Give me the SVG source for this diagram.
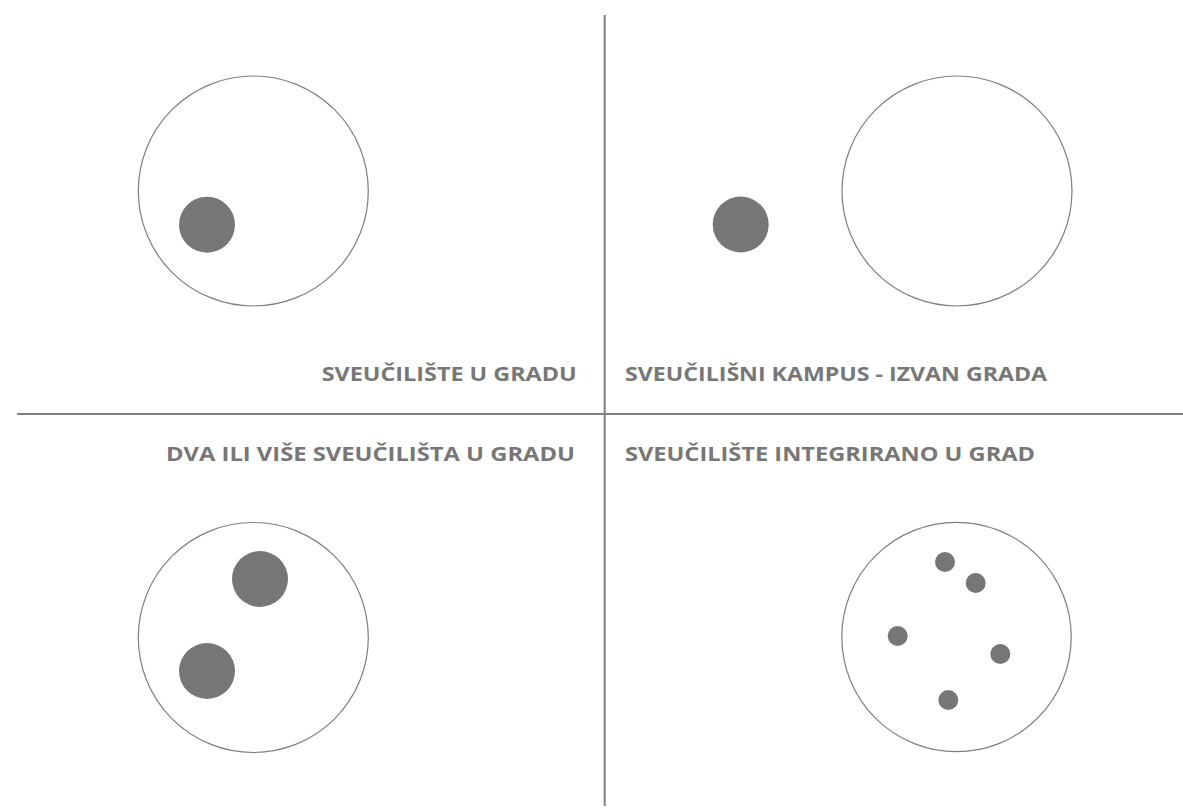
<svg xmlns="http://www.w3.org/2000/svg" width="1183" height="809" viewBox="0 0 1183 809">
<style>
.city{fill:#ffffff;stroke:#7f7f7f;stroke-width:1.2}
.uni{fill:#767676}
.lbl{font-family:"Open Sans","DejaVu Sans","Liberation Sans",sans-serif;font-weight:bold;font-size:18.7px;fill:#777777}
.axis{stroke:#7f7f7f;stroke-width:2}
</style>
<rect width="1183" height="809" fill="#ffffff"/>
<g id="axes">
<line class="axis" x1="604.7" y1="15" x2="604.7" y2="806"/>
<line class="axis" x1="17" y1="414" x2="1183" y2="414"/>
</g>
<g id="q1">
<circle class="city" cx="253.3" cy="191" r="115"/>
<circle class="uni" cx="207" cy="224.7" r="28"/>
<text class="lbl" x="576.7" y="381" text-anchor="end" textLength="255" lengthAdjust="spacingAndGlyphs">SVEUČILIŠTE U GRADU</text>
</g>
<g id="q2">
<circle class="city" cx="957" cy="191" r="115"/>
<circle class="uni" cx="740.7" cy="224.5" r="28"/>
<text class="lbl" x="625" y="381" textLength="422" lengthAdjust="spacingAndGlyphs">SVEUČILIŠNI KAMPUS - IZVAN GRADA</text>
</g>
<g id="q3">
<circle class="city" cx="253.3" cy="637.5" r="115"/>
<circle class="uni" cx="260" cy="579" r="28"/>
<circle class="uni" cx="207" cy="671" r="28"/>
<text class="lbl" x="575" y="461" text-anchor="end" textLength="409" lengthAdjust="spacingAndGlyphs">DVA ILI VIŠE SVEUČILIŠTA U GRADU</text>
</g>
<g id="q4">
<circle class="city" cx="956.5" cy="637" r="114.7"/>
<circle class="uni" cx="945" cy="562" r="10"/>
<circle class="uni" cx="975.7" cy="583" r="10"/>
<circle class="uni" cx="897.7" cy="636" r="10"/>
<circle class="uni" cx="1000.3" cy="654" r="10"/>
<circle class="uni" cx="948.3" cy="700" r="10"/>
<text class="lbl" x="625" y="461" textLength="410" lengthAdjust="spacingAndGlyphs">SVEUČILIŠTE INTEGRIRANO U GRAD</text>
</g>
</svg>
